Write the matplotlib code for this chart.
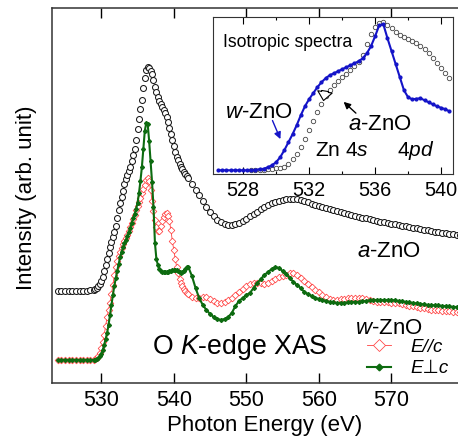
import numpy as np
import matplotlib
matplotlib.use("Agg")
import matplotlib.pyplot as plt

plt.rcParams['font.family'] = ['Liberation Sans', 'DejaVu Sans']
plt.rcParams['mathtext.fontset'] = 'custom'
plt.rcParams['mathtext.rm'] = 'Liberation Sans'
plt.rcParams['mathtext.it'] = 'Liberation Sans:italic'
plt.rcParams['mathtext.sf'] = 'Liberation Sans'

# ---------------- main panel data (photon energy in eV) ----------------
# measurement grid: 0.5 eV steps, 0.2 eV steps across the edge region
energy = np.concatenate([np.linspace(524.0, 528.5, 10),
                         np.linspace(529.0, 541.8, 65),
                         np.linspace(542.0, 579.5, 76)])

a_zno = [92, 92, 92, 92, 92, 92, 92, 92, 92, 92.5,
         # 529.0 - 541.8 (0.2 eV)
         93, 93.5, 94.5, 96.5, 99, 102, 106, 112, 118, 124, 130, 136, 141, 146, 151,
         157, 165, 173, 180, 186, 192, 199, 204, 208, 212, 216, 222, 228, 234, 243,
         254, 264, 274, 283, 295, 305, 313, 316, 315, 312, 309, 303, 296, 291, 286,
         282, 279, 276, 273, 270, 266, 261, 255, 249, 243, 237, 231, 226, 223, 219,
         216, 214, 211, 209, 207,
         # 542.0 - 579.5 (0.5 eV)
         205, 199, 193, 188, 182, 176, 171, 167, 163, 161, 159, 158, 158, 159, 160, 162,
         164, 167, 169, 171, 174, 176, 178, 180, 181, 182, 183, 184, 184, 184, 183.5, 183, 182, 181, 179, 178,
         177, 176, 175, 174, 173, 172, 170.5, 169.5, 168.5, 167.5, 167, 166, 165, 164.5, 163.5, 162.5, 162, 161,
         160.5, 160, 159, 158.5, 158, 157, 156.5, 156, 155, 154.5, 154, 153, 152.5, 152, 151, 150.5, 150, 149.5,
         149, 148.5, 148, 147.5]

w_par = [23, 23, 23, 23, 23, 23, 23, 23, 23, 23,
         23, 23.5, 25, 27, 30, 35, 41, 48, 57, 66, 73, 80, 89, 98, 108,
         116, 122, 127, 131, 135, 139, 142, 145, 148, 152, 156, 160, 164, 168, 173,
         177, 181, 185, 190, 194, 198, 203, 205, 202, 193, 182, 172, 163, 156, 152,
         152, 157, 162, 166, 169, 170, 167, 162, 153, 142, 133, 124, 116, 110, 104,
         100, 97, 94, 92, 90,
         89, 86, 85, 85, 86, 86, 84, 82, 80, 80, 81, 83, 85, 88, 91, 94,
         97, 99, 100, 100, 99.5, 99, 100, 102, 104, 106, 107, 108, 110, 110, 108, 105, 102, 99, 96, 93,
         91, 88, 86, 84, 83, 83, 83.5, 84, 84.5, 85, 85, 85, 84.5, 84, 83, 82, 81, 81, 80.5, 80.5,
         80, 80, 80, 79, 78, 77, 76.5, 76, 75, 74.5, 74, 73, 73, 72.5, 72, 72, 71.5, 71, 71, 71]

w_perp = [23, 23, 23, 23, 23, 23, 23, 23, 23, 23,
          23, 23, 23.5, 25, 27, 29, 33, 38, 44, 50, 58, 68, 78, 88, 97,
          105, 112, 119, 126, 131, 136, 140, 143, 147, 151, 155, 160, 165, 169, 174,
          180, 190, 202, 216, 234, 252, 260, 259, 242, 222, 201, 176, 140, 124, 118,
          114, 112, 111, 111, 111, 111, 111, 111.5, 112, 112.5, 113, 113, 113, 112, 111,
          110, 110.5, 112, 114, 116,
          116, 107, 95, 85, 78, 73, 69, 66, 64, 63, 64, 66, 70, 77, 82, 85,
          88, 90, 95, 100, 104, 108, 111, 114, 116, 115, 112, 109, 105, 101, 98, 95, 91, 89, 87, 85,
          84, 83, 82, 81, 80.5, 80, 80, 80, 80.5, 81, 81, 81, 81.5, 82, 82.5, 83, 83, 83, 83, 83,
          83, 82.5, 82, 81.5, 81, 80.5, 80, 79.5, 79, 78.5, 78, 78, 77.5, 77.5, 77, 77, 76.5, 76, 76, 76]

# ---------------- inset data (isotropic spectra) ----------------
energy_w_iso = np.linspace(526.5, 540.5, 57)
w_iso = [4, 4, 4, 4, 4, 4, 4, 4, 4,
         4.5, 5, 5.5, 7, 9, 12, 17, 24, 32, 40, 49, 59, 68, 75, 81, 87, 92, 96, 99, 101,
         103, 105, 107, 109, 111, 113, 116, 121, 128, 138, 149, 150, 136, 123, 110, 97, 84, 77, 75, 75.5,
         76, 74, 72, 70, 68, 66.5, 65, 63]

energy_a_iso = np.linspace(528.5, 540.5, 49)
a_iso = [4, 4, 4, 4.5, 5, 5.5, 6, 6.5, 7, 10, 15, 20, 27, 35, 44, 53, 62, 70, 78, 84,
         89, 93, 97, 100, 104, 108, 112, 119, 130, 140, 147, 151, 152, 149, 146, 142, 139, 137, 135, 133,
         131, 128, 125, 121, 116, 111, 106, 101, 96]

main_ticks = [530, 540, 550, 560, 570]
inset_ticks = [528, 532, 536, 540]
inset_minor = [530, 534, 538]

RED = '#ff4040'
GREEN = '#0d6b10'
BLUE = '#1414c8'
SPINE = '#333333'

fig = plt.figure(figsize=(4.58, 4.38), dpi=100)
ax = fig.add_axes([0.1135, 0.1256, 0.8992, 0.8562])

ax.plot(energy, a_zno, linestyle='none', marker='o', ms=4.3, mfc='white', mec='#1a1a1a', mew=0.75)
l_par, = ax.plot(energy, w_par, color=RED, lw=0.6, marker='D', ms=3.4, mfc='white', mec=RED, mew=0.55,
                 label='E//c')
l_perp, = ax.plot(energy, w_perp, color=GREEN, lw=1.5, marker='D', ms=2.0, mfc=GREEN, mec=GREEN,
                  label='E\u22a5c')

ax.set_xlim(523.2, 580)
ax.set_ylim(0, 375)
ax.set_yticks([])
ax.set_xticks(main_ticks)
ax.tick_params(axis='x', direction='in', length=7, width=1.0, top=True, labelsize=15.5, pad=5,
               colors='black')
for s in ax.spines.values():
    s.set_linewidth(1.1)
    s.set_color(SPINE)
ax.set_xlabel('Photon Energy (eV)', fontsize=16)
ax.set_ylabel('Intensity (arb. unit)', fontsize=16)
ax.xaxis.set_label_coords(0.516, -0.085)
ax.yaxis.set_label_coords(-0.036, 0.493)

ax.text(565.27, 131, r'$\mathit{a}$-ZnO', fontsize=16, ha='left', va='center')
ax.text(565.0, 54, r'$\mathit{w}$-ZnO', fontsize=16, ha='left', va='center')
ax.text(537.0, 36, r'O $\mathit{K}$-edge XAS', fontsize=19.2, ha='left', va='center')

leg = ax.legend(handles=[l_par, l_perp], loc='center left', bbox_to_anchor=(0.765, 0.0667),
                frameon=False, borderpad=0, borderaxespad=0, handlelength=1.3, handletextpad=1.0,
                labelspacing=0.25, numpoints=1, markerscale=1.7,
                prop=dict(size=13.5, style='italic'))

# ---------------- inset ----------------
ins = fig.add_axes([0.4657, 0.6021, 0.5227, 0.3584])
ins.plot(energy_a_iso, a_iso, linestyle='none', marker='o', ms=3.2, mfc='white', mec='#444444', mew=0.6)
ins.plot(energy_w_iso, w_iso, color=BLUE, lw=1.5, marker='o', ms=2.0, mfc=BLUE, mec=BLUE)
ins.set_xlim(526.2, 540.7)
ins.set_ylim(0, 157)
ins.set_yticks([])
ins.set_xticks(inset_ticks)
ins.set_xticks(inset_minor, minor=True)
ins.tick_params(axis='x', which='major', direction='in', length=5, width=0.8, top=True,
                labelsize=14.3, pad=5)
ins.tick_params(axis='x', which='minor', direction='in', length=2.5, width=0.8, top=True)
for s in ins.spines.values():
    s.set_linewidth(0.8)
    s.set_color(SPINE)

ins.text(526.77, 132, 'Isotropic spectra', fontsize=12.7, ha='left', va='center')
ins.text(526.89, 62, r'$\mathit{w}$-ZnO', fontsize=16, ha='left', va='center')
ins.text(534.35, 50, r'$\mathit{a}$-ZnO', fontsize=16, ha='left', va='center')
ins.text(532.35, 24, r'Zn 4$\mathit{s}$', fontsize=15, ha='left', va='center')
ins.text(537.33, 24, r'4$\mathit{pd}$', fontsize=15, ha='left', va='center')

ins.annotate('', xy=(530.33, 32.6), xytext=(529.72, 56.3),
             arrowprops=dict(arrowstyle='-|>', color=BLUE, lw=1.0, mutation_scale=10))
ins.annotate('', xy=(533.97, 74.3), xytext=(534.96, 59.3),
             arrowprops=dict(arrowstyle='-|>', color='black', lw=1.0, mutation_scale=10))
ins.annotate('', xy=(532.85, 71), xytext=(533.0, 86),
             arrowprops=dict(arrowstyle='simple,head_length=0.45,head_width=0.75,tail_width=0.35',
                             fc='white', ec='black', lw=0.8, mutation_scale=14))

fig.savefig('out.png', dpi=100)
